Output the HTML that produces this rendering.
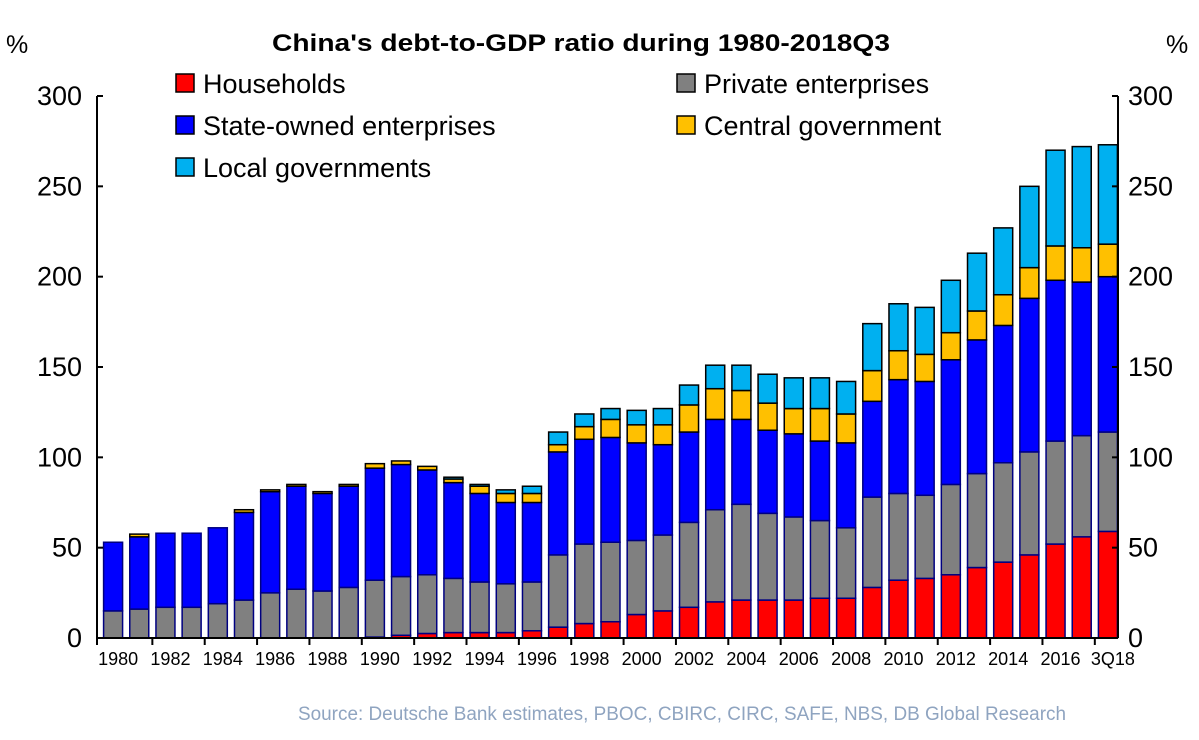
<!DOCTYPE html>
<html><head><meta charset="utf-8"><style>
body{margin:0;background:#fff;}
svg{font-family:"Liberation Sans",Arial,sans-serif;}
</style></head><body>
<svg width="1199" height="735" viewBox="0 0 1199 735">
<g id="plot"></g>
<text x="581" y="51" text-anchor="middle" font-size="24" font-weight="bold" textLength="618" lengthAdjust="spacingAndGlyphs">China's debt-to-GDP ratio during 1980-2018Q3</text>
<text x="6" y="53" font-size="25">%</text>
<text x="1166" y="53" font-size="25">%</text>
<g id="legend" font-size="27"></g>
<text x="682" y="720" text-anchor="middle" font-size="19" fill="#8fa4c0" textLength="768" lengthAdjust="spacingAndGlyphs">Source: Deutsche Bank estimates, PBOC, CBIRC, CIRC, SAFE, NBS, DB Global Research</text>
</svg>
<script>
const categories=["1980","1981","1982","1983","1984","1985","1986","1987","1988","1989","1990","1991","1992","1993","1994","1995","1996","1997","1998","1999","2000","2001","2002","2003","2004","2005","2006","2007","2008","2009","2010","2011","2012","2013","2014","2015","2016","2017","3Q18"];
const households=[0,0,0,0,0,0,0,0,0,0,0.5,1.5,2.5,3,3,3,4,6,8,9,13,15,17,20,21,21,21,22,22,28,32,33,35,39,42,46,52,56,59];
const privateEnt=[15,16,17,17,19,21,25,27,26,28,31.5,32.5,32.5,30,28,27,27,40,44,44,41,42,47,51,53,48,46,43,39,50,48,46,50,52,55,57,57,56,55];
const stateOwned=[38,40,41,41,42,48.5,56,57,54,56,62,62,58,53,49,45,44,57,58,58,54,50,50,50,47,46,46,44,47,53,63,63,69,74,76,85,89,85,86];
const centralGov=[0,1.5,0,0,0,1.5,1,1,1,1,2.5,2,2,2,4,5,5,4,7,10,10,11,15,17,16,15,14,18,16,17,16,15,15,16,17,17,19,19,18];
const localGov=[0,0,0,0,0,0,0,0,0,0,0,0,0,1,1,2,4,7,7,6,8,9,11,13,14,16,17,17,18,26,26,26,29,32,37,45,53,56,55];
const yTicks=[0,50,100,150,200,250,300];
const xLabels=["1980","1982","1984","1986","1988","1990","1992","1994","1996","1998","2000","2002","2004","2006","2008","2010","2012","2014","2016","3Q18"];

const NS="http://www.w3.org/2000/svg";
const X0=97,X1=1118,Y0=638,Y300=96;
const slot=(X1-X0)/categories.length;
const bw=19;
function y(v){return Y0-(v/300)*(Y0-Y300);}
function xc(i){return X0+slot*(i+0.5)+3;}
function mk(tag,attrs,parent){const e=document.createElementNS(NS,tag);for(const k in attrs)e.setAttribute(k,attrs[k]);parent.appendChild(e);return e;}
const plot=document.getElementById('plot');
const series=[
 {vals:households,fill:"#ff0000",name:"households"},
 {vals:privateEnt,fill:"#808080",name:"private-enterprises"},
 {vals:stateOwned,fill:"#0000ff",name:"state-owned-enterprises"},
 {vals:centralGov,fill:"#ffc000",name:"central-government"},
 {vals:localGov,fill:"#00b0f0",name:"local-governments"}];
categories.forEach((c,i)=>{
 let base=0;
 series.forEach(s=>{
  const v=s.vals[i];
  if(v>0){
   const r=mk('rect',{x:xc(i)-bw/2,y:y(base+v),width:bw,height:y(base)-y(base+v),fill:s.fill,stroke:(s.name==="central-government"||s.name==="local-governments")?"#000":"#000080","stroke-width":1.5},plot);
   
   
  }
  base+=v;
 });
});
let a=mk('line',{x1:X0,y1:Y300,x2:X0,y2:Y0,stroke:"#000","stroke-width":2},plot);

a=mk('line',{x1:X1,y1:Y300,x2:X1,y2:Y0,stroke:"#000","stroke-width":2},plot);

a=mk('line',{x1:X0,y1:Y0,x2:X1,y2:Y0,stroke:"#000","stroke-width":2},plot);

yTicks.forEach(t=>{
 mk('line',{x1:X0,y1:y(t),x2:X0+6,y2:y(t),stroke:"#000","stroke-width":2},plot);
 mk('line',{x1:X1-6,y1:y(t),x2:X1,y2:y(t),stroke:"#000","stroke-width":2},plot);
 let l=mk('text',{x:82,y:y(t)+9,"text-anchor":"end","font-size":27},plot);l.textContent=t;
 
 l=mk('text',{x:1128,y:y(t)+9,"font-size":27},plot);l.textContent=t;
 
});
for(let k=0;k<=categories.length;k+=2){
 const xx=X0+slot*k+3*(k>0&&k<categories.length?1:0);
 mk('line',{x1:xx,y1:Y0,x2:xx,y2:Y0+7,stroke:"#000","stroke-width":2},plot);
}
xLabels.forEach(lb=>{
 const i=categories.indexOf(lb);
 const t=mk('text',{x:xc(i)+5,y:Y0+27,"text-anchor":"middle","font-size":18},plot);
 t.textContent=lb;
 
 
});
const leg=document.getElementById('legend');
const items=[["Households","#ff0000",176,84],["Private enterprises","#808080",677,84],["State-owned enterprises","#0000ff",176,126],["Central government","#ffc000",677,126],["Local governments","#00b0f0",176,168]];
items.forEach(it=>{
 const g=mk('g',{},leg);
 
 
 mk('rect',{x:it[2],y:it[3]-10,width:18,height:18,fill:it[1],stroke:"#000","stroke-width":1.5},g);
 const t=mk('text',{x:it[2]+27,y:it[3]+9},g);t.textContent=it[0];
});
</script>
</body></html>
